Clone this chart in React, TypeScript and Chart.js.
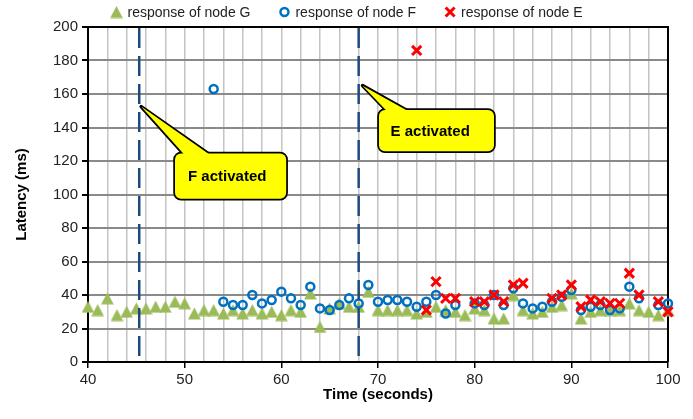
import React, { useEffect, useRef } from 'react';
import { Chart, registerables } from 'chart.js';

Chart.register(...registerables);

const FONT = "'Liberation Sans', Arial, sans-serif";

// ---- data ----
const timeG = [40, 41, 42, 43, 44, 45, 46, 47, 48, 49, 50, 51, 52, 53, 54, 55, 56, 57, 58, 59, 60, 61, 62, 63, 64, 65, 66, 67, 68, 69, 70, 71, 72, 73, 74, 75, 76, 77, 78, 79, 80, 81, 82, 83, 84, 85, 86, 87, 88, 89, 90, 91, 92, 93, 94, 95, 96, 97, 98, 99, 100];
const latencyG = [33, 31, 38, 28, 30, 32, 32, 33, 33, 36, 35, 29, 31, 31, 29, 31, 29, 31, 29, 30, 28, 31, 30, 41, 21, 32, 35, 33, 33, 42, 31, 31, 31, 31, 29, 30, 33, 31, 30, 28, 32, 31, 26, 26, 40, 31, 29, 30, 33, 34, 41, 26, 30, 31, 31, 31, 35, 31, 30, 28, 31];

const timeF = [53, 54, 55, 56, 57, 58, 59, 60, 61, 62, 63, 64, 65, 66, 67, 68, 69, 70, 71, 72, 73, 74, 75, 76, 77, 78, 80, 81, 82, 83, 84, 85, 86, 87, 88, 89, 90, 91, 92, 93, 94, 95, 96, 97, 99, 100];
const latencyF = [163, 36, 34, 34, 40, 35, 37, 42, 38, 34, 45, 32, 31, 34, 38, 35, 46, 36, 37, 37, 36, 33, 36, 40, 29, 34, 35, 34, 40, 34, 44, 35, 32, 33, 36, 39, 43, 31, 33, 34, 31, 32, 45, 38, 34, 35];

const timeE = [74, 75, 76, 77, 78, 80, 81, 82, 83, 84, 85, 88, 89, 90, 91, 92, 93, 94, 95, 96, 97, 99, 100];
const latencyE = [186, 31, 48, 38, 38, 36, 36, 40, 36, 46, 47, 38, 40, 46, 33, 37, 36, 35, 35, 53, 40, 36, 30];

const seriesLabels = ['response of node G', 'response of node F', 'response of node E'];
const activationTimes = [45.3, 68];

// callouts in data units
const callouts = [
  { text: 'F activated', box: [49, 124.5, 60.5, 97.5], tip: [45.5, 152.5], base: [50.6, 53.6], textAt: [54.4, 110.5] },
  { text: 'E activated', box: [70.1, 150.5, 82, 125.8], tip: [68.4, 165], base: [71.6, 74.4], textAt: [75.4, 137.5] },
];

const GREEN = '#9bbb59';
const BLUE = '#0070c0';
const RED = '#ff0000';

function makeTriangle(): HTMLCanvasElement {
  const c = document.createElement('canvas');
  c.width = 13;
  c.height = 13;
  const g = c.getContext('2d')!;
  g.fillStyle = GREEN;
  g.beginPath();
  g.moveTo(6.5, 0.5);
  g.lineTo(12.8, 12.5);
  g.lineTo(0.2, 12.5);
  g.closePath();
  g.fill();
  return c;
}

function roundRectPath(ctx: CanvasRenderingContext2D, x: number, y: number, w: number, h: number, r: number) {
  ctx.beginPath();
  ctx.moveTo(x + r, y);
  ctx.lineTo(x + w - r, y);
  ctx.arcTo(x + w, y, x + w, y + r, r);
  ctx.lineTo(x + w, y + h - r);
  ctx.arcTo(x + w, y + h, x + w - r, y + h, r);
  ctx.lineTo(x + r, y + h);
  ctx.arcTo(x, y + h, x, y + h - r, r);
  ctx.lineTo(x, y + r);
  ctx.arcTo(x, y, x + r, y, r);
  ctx.closePath();
}

export default function App() {
  const ref = useRef<HTMLCanvasElement>(null);

  useEffect(() => {
    const canvas = ref.current!;
    const tri = makeTriangle();

    const framePlugin = {
      id: 'frame',
      beforeDatasetsDraw(chart: any) {
        const { ctx, chartArea: a } = chart;
        ctx.save();
        ctx.strokeStyle = '#000';
        ctx.lineWidth = 2;
        ctx.beginPath();
        ctx.moveTo(a.left, a.top);
        ctx.lineTo(a.right, a.top);
        ctx.lineTo(a.right, a.bottom);
        ctx.stroke();
        ctx.restore();
      },
      afterDatasetsDraw(chart: any) {
        const { ctx, chartArea: a, scales } = chart;
        ctx.save();
        ctx.strokeStyle = '#1f497d';
        ctx.lineWidth = 2.5;
        ctx.setLineDash([20, 8]);
        activationTimes.forEach((t) => {
          const x = scales.x.getPixelForValue(t);
          ctx.beginPath();
          ctx.moveTo(x, a.top + 1);
          ctx.lineTo(x, a.bottom);
          ctx.stroke();
        });
        ctx.setLineDash([]);
        // callouts
        callouts.forEach((c) => {
          const X = (v: number) => scales.x.getPixelForValue(v);
          const Y = (v: number) => scales.y.getPixelForValue(v);
          const bx = X(c.box[0]);
          const by = Y(c.box[1]);
          const bw = X(c.box[2]) - bx;
          const bh = Y(c.box[3]) - by;
          const tail = () => {
            ctx.beginPath();
            ctx.moveTo(X(c.tip[0]), Y(c.tip[1]));
            ctx.lineTo(X(c.base[1]), by + 8);
            ctx.lineTo(X(c.base[0]), by + 8);
            ctx.closePath();
          };
          ctx.lineJoin = 'round';
          ctx.strokeStyle = '#000';
          ctx.lineWidth = 3.5;
          tail();
          ctx.stroke();
          roundRectPath(ctx, bx, by, bw, bh, 6);
          ctx.stroke();
          ctx.fillStyle = '#ffff00';
          tail();
          ctx.fill();
          roundRectPath(ctx, bx, by, bw, bh, 6);
          ctx.fill();
          ctx.fillStyle = '#000';
          ctx.font = `bold 15px ${FONT}`;
          ctx.textAlign = 'center';
          ctx.textBaseline = 'middle';
          ctx.fillText(c.text, X(c.textAt[0]), Y(c.textAt[1]));
        });
        ctx.restore();
      },
      afterDraw(chart: any) {
        // legend
        const { ctx, width } = chart;
        ctx.save();
        ctx.font = `14px ${FONT}`;
        ctx.textBaseline = 'middle';
        ctx.textAlign = 'left';
        const markerW = 12;
        const gapMT = 5;
        const gapItems = 28;
        const widths = seriesLabels.map((l) => ctx.measureText(l).width);
        const total = widths.reduce((s, w) => s + markerW + gapMT + w, 0) + gapItems * (seriesLabels.length - 1);
        let x = (width - total) / 2;
        const y = 12;
        seriesLabels.forEach((label, i) => {
          const cx = x + markerW / 2;
          if (i === 0) {
            ctx.drawImage(tri, cx - 6.5, y - 6.5);
          } else if (i === 1) {
            ctx.strokeStyle = BLUE;
            ctx.lineWidth = 2.5;
            ctx.beginPath();
            ctx.arc(cx, y, 4, 0, Math.PI * 2);
            ctx.stroke();
          } else {
            ctx.strokeStyle = RED;
            ctx.lineWidth = 3;
            ctx.beginPath();
            ctx.moveTo(cx - 4.5, y - 4.5);
            ctx.lineTo(cx + 4.5, y + 4.5);
            ctx.moveTo(cx + 4.5, y - 4.5);
            ctx.lineTo(cx - 4.5, y + 4.5);
            ctx.stroke();
          }
          ctx.fillStyle = '#222';
          ctx.fillText(label, x + markerW + gapMT, y + 1);
          x += markerW + gapMT + widths[i] + gapItems;
        });
        ctx.restore();
      },
    };

    const chart = new Chart(canvas, {
      type: 'scatter',
      data: {
        datasets: [
          {
            label: seriesLabels[0],
            data: timeG.map((t, i) => ({ x: t, y: latencyG[i] })),
            pointStyle: tri as any,
            pointRadius: 6,
            backgroundColor: GREEN,
            borderColor: GREEN,
            clip: false,
            order: 3,
          },
          {
            label: seriesLabels[1],
            data: timeF.map((t, i) => ({ x: t, y: latencyF[i] })),
            pointStyle: 'circle',
            pointRadius: 4,
            borderWidth: 2.5,
            backgroundColor: 'rgba(0,0,0,0)',
            borderColor: BLUE,
            clip: false,
            order: 2,
          },
          {
            label: seriesLabels[2],
            data: timeE.map((t, i) => ({ x: t, y: latencyE[i] })),
            pointStyle: 'crossRot',
            pointRadius: 6.5,
            borderWidth: 3,
            backgroundColor: RED,
            borderColor: RED,
            clip: false,
            order: 1,
          },
        ],
      },
      options: {
        animation: false,
        responsive: true,
        maintainAspectRatio: false,
        layout: { padding: { left: 0, right: 25, top: 27, bottom: 0 } },
        plugins: { legend: { display: false }, tooltip: { enabled: false } },
        scales: {
          x: {
            type: 'linear',
            min: 40,
            max: 100,
            afterFit: (s: any) => {
              s.height = 57;
            },
            ticks: {
              stepSize: 2,
              autoSkip: false,
              maxRotation: 0,
              padding: 3,
              color: '#222',
              font: { family: FONT, size: 15 },
              callback: (v: any) => (Number(v) % 10 === 0 ? String(v) : ''),
            },
            grid: {
              color: '#c4c4c4',
              lineWidth: 1.5,
              tickLength: 6,
              tickColor: (c: any) => (c.tick && c.tick.value % 10 === 0 ? '#000' : 'rgba(0,0,0,0)'),
            },
            border: { color: '#000', width: 2 },
            title: {
              display: true,
              text: 'Time (seconds)',
              color: '#000',
              font: { family: FONT, size: 15, weight: 'bold' },
              padding: { top: 0, bottom: 15 },
            },
          },
          y: {
            min: 0,
            max: 200,
            afterFit: (s: any) => {
              s.width = 88;
            },
            ticks: {
              stepSize: 20,
              padding: 4,
              color: '#222',
              font: { family: FONT, size: 15 },
            },
            grid: {
              color: '#8a8a8a',
              lineWidth: 2,
              tickLength: 6,
              tickColor: '#000',
            },
            border: { color: '#000', width: 2 },
            title: {
              display: true,
              text: 'Latency (ms)',
              color: '#000',
              font: { family: FONT, size: 15, weight: 'bold' },
              padding: { top: 13, bottom: 0 },
            },
          },
        },
      },
      plugins: [framePlugin],
    });

    return () => chart.destroy();
  }, []);

  return (
    <div style={{ position: 'absolute', left: 0, top: 0, width: 693, height: 419, background: '#fff' }}>
      <canvas ref={ref} />
    </div>
  );
}
